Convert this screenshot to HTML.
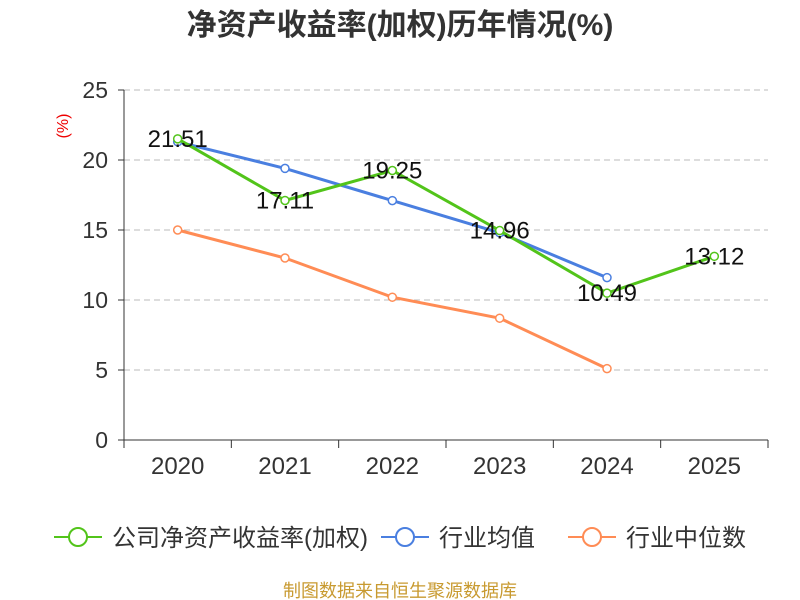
<!DOCTYPE html>
<html><head><meta charset="utf-8"><style>
body{margin:0;background:#fff;}
svg{display:block;font-family:"Liberation Sans","Noto Sans CJK SC",sans-serif;}
</style></head><body>
<svg id="chart" width="800" height="600">
<text x="400" y="35" text-anchor="middle" font-size="30" font-weight="bold" fill="#333">净资产收益率(加权)历年情况(%)</text>
<text x="68" y="126" text-anchor="middle" font-size="16" fill="#e00" transform="rotate(-90 68 126)">(%)</text>
<g id="grid"></g><g id="axes"></g><g id="series"></g>
<g>
<g><line x1="54" y1="537" x2="102" y2="537" stroke="#52c41a" stroke-width="2"/><circle cx="78" cy="537" r="9" fill="#fff" stroke="#52c41a" stroke-width="2"/><text x="112" y="546" font-size="24" fill="#333">公司净资产收益率(加权)</text></g>
<g><line x1="381" y1="537" x2="429" y2="537" stroke="#4a7fe0" stroke-width="2"/><circle cx="405" cy="537" r="9" fill="#fff" stroke="#4a7fe0" stroke-width="2"/><text x="439" y="546" font-size="24" fill="#333">行业均值</text></g>
<g><line x1="568" y1="537" x2="616" y2="537" stroke="#ff8c55" stroke-width="2"/><circle cx="592" cy="537" r="9" fill="#fff" stroke="#ff8c55" stroke-width="2"/><text x="626" y="546" font-size="24" fill="#333">行业中位数</text></g>
</g>
<text x="400" y="597" text-anchor="middle" font-size="18" fill="#c89a30">制图数据来自恒生聚源数据库</text>
</svg>
<script>
const categories=["2020","2021","2022","2023","2024","2025"];
const company=[21.51,17.11,19.25,14.96,10.49,13.12];
const industryAvg=[21.3,19.4,17.1,14.8,11.6];
const industryMedian=[15.0,13.0,10.2,8.7,5.1];
const yTicks=[0,5,10,15,20,25];
const NS="http://www.w3.org/2000/svg";
const x0=124,x1=768,yBase=440,yTop=90,yMax=25;
const bw=(x1-x0)/categories.length;
const xs=i=>x0+bw*(i+0.5);
const ys=v=>yBase-(yBase-yTop)*v/yMax;
function mk(tag,attrs,parent){const e=document.createElementNS(NS,tag);for(const k in attrs)e.setAttribute(k,attrs[k]);document.getElementById(parent).appendChild(e);return e;}
yTicks.forEach(t=>{
  if(t>0){const g=mk('line',{x1:x0,x2:x1,y1:ys(t),y2:ys(t),stroke:'#bbb','stroke-dasharray':'6,4'},'grid');
  
  }
  const tk=mk('line',{x1:x0-6,x2:x0,y1:ys(t),y2:ys(t),stroke:'#333'},'axes');
  
  
  const l=mk('text',{x:x0-16,y:ys(t)+8,'text-anchor':'end','font-size':23,fill:'#333'},'axes');l.textContent=t;
  
  
});
const ya=mk('line',{x1:x0,x2:x0,y1:yTop,y2:yBase,stroke:'#333'},'axes');


const xa=mk('line',{x1:x0,x2:x1,y1:yBase,y2:yBase,stroke:'#333'},'axes');


for(let i=0;i<=categories.length;i++){const t=mk('line',{x1:x0+bw*i,x2:x0+bw*i,y1:yBase,y2:yBase+8,stroke:'#333'},'axes');

}
categories.forEach((c,i)=>{const l=mk('text',{x:xs(i),y:474,'text-anchor':'middle','font-size':24,fill:'#333'},'axes');l.textContent=c;

});
function series(data,color,name,labels){
  const p=mk('polyline',{points:data.map((v,i)=>xs(i)+','+ys(v)).join(' '),fill:'none',stroke:color,'stroke-width':3},'series');
  
  
  data.forEach((v,i)=>{const c=mk('circle',{cx:xs(i),cy:ys(v),r:4,fill:'#fff',stroke:color,'stroke-width':1.5},'series');
    
    
    if(labels){const t=mk('text',{x:xs(i),y:ys(v)+8,'text-anchor':'middle','font-size':24,fill:'#111'},'series');t.textContent=v.toFixed(2);
    
    }
  });
}
series(industryMedian,'#ff8c55','industry-median',false);
series(industryAvg,'#4a7fe0','industry-avg',false);
series(company,'#52c41a','company',true);
</script>
</body></html>
